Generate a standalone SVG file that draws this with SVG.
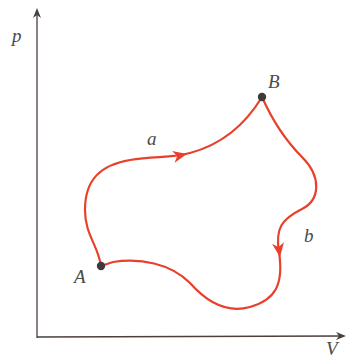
<svg xmlns="http://www.w3.org/2000/svg" width="347" height="358" viewBox="0 0 347 358">
<style>
.axis{stroke:#4a403b;stroke-width:1.3;fill:none}
.curve{stroke:#e8402a;stroke-width:2.2;fill:none;stroke-linecap:round}
.lbl{font-family:"Liberation Serif","DejaVu Serif",serif;font-style:italic;font-size:19px;fill:#4a4a4a}
.dot{fill:#3f3a3a}
</style>
<defs>
<path id="ah" d="M0,0 L-14,-6 L-10,0 L-14,6 Z" fill="#e8402a"/>
<path id="axh" d="M0,0 L-10,-4 L-7,0 L-10,4 Z" fill="#4a403b"/>
</defs>
<rect width="347" height="358" fill="#ffffff"/>
<g id="axes">
<path class="axis" d="M37,338 L37,12"/>
<use href="#axh" transform="translate(37,8) rotate(-90)"/>
<path class="axis" d="M37,337 L342,336"/>
<use href="#axh" transform="translate(346,336)"/>
<text class="lbl" x="12" y="42">p</text>
<text class="lbl" x="326" y="355">V</text>
</g>
<g id="connectors">
<g id="path-a">
<path class="curve" d="M101,266 C98,245 85,235 85,210 C85,180 100,165 130,160 C155,156 172,158 190,153 C220,145 245,125 262,97"/>
<use href="#ah" transform="translate(187,154) rotate(-12)"/>
<text class="lbl" x="147" y="145">a</text>
</g>
<g id="path-b">
<path class="curve" d="M262,97 C270,115 282,137 302,157 C322,177 320,200 302,209 C282,219 275,228 279,252 C284,285 275,300 250,307 C225,314 205,300 190,283 C170,263 140,258 113,262 L101,266"/>
<use href="#ah" transform="translate(280,257) rotate(82)"/>
<text class="lbl" x="304" y="242">b</text>
</g>
</g>
<g id="A">
<circle class="dot" cx="101" cy="266" r="4.2"/>
<text class="lbl" x="74" y="283">A</text>
</g>
<g id="B">
<circle class="dot" cx="262" cy="97" r="4.2"/>
<text class="lbl" x="268" y="88">B</text>
</g>
</svg>
